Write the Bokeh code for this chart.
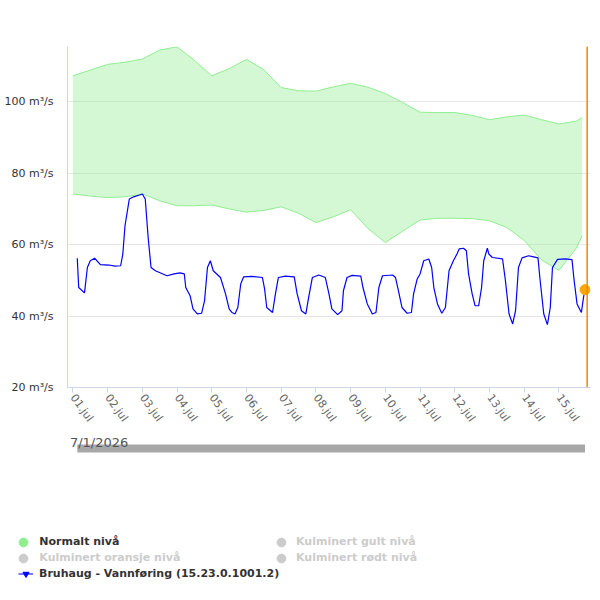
from datetime import datetime, timedelta

from bokeh.plotting import figure
from bokeh.layouts import column
from bokeh.models import (Range1d, FixedTicker, DatetimeTickFormatter, PrintfTickFormatter,
                          Span, Legend, LegendItem, Label)
from bokeh.embed import file_html
from bokeh.resources import INLINE

# ---------------- data ----------------
START = datetime(2026, 7, 1)
DATE_LABEL = "7/1/2026"

# Bruhaug - Vannføring, hours after 01.07.2026 00:00 and m3/s
flow_hours = [3, 4, 8, 10, 12, 15, 19, 25, 29, 33, 34.5, 36, 39, 42, 46, 48, 50, 52, 54, 57,
              61, 65, 70, 74, 77, 78, 81, 83, 86, 89, 91, 93, 95, 97, 102, 105.5, 108, 110,
              112, 114, 116, 118, 124, 131, 132.5, 134, 138, 140, 142, 147, 153, 155, 158,
              161, 163, 165.5, 170, 174.5, 177, 179, 183, 186, 187, 189.5, 193, 199, 200.5,
              203.5, 207, 209.5, 211.5, 214, 221, 223, 225, 227.5, 231, 234, 235.5, 238, 240,
              242.5, 246, 248, 249.5, 252, 255, 257.5, 260, 263, 265.5, 267, 270, 272, 273.5,
              276, 278, 280.5, 282.5, 284, 286.5, 287.5, 290, 297, 299, 301.5, 304, 306, 308,
              310.5, 315, 318.5, 321.5, 323, 325.5, 328, 330, 331.5, 335, 340.5, 345, 346.5,
              348.5, 351.5, 353, 354]
flow_values = [56.2, 48.0, 46.5, 53.6, 55.5, 56.2, 54.4, 54.3, 54.0, 54.1, 57.4, 65.3, 72.8,
               73.4, 73.9, 74.2, 72.8, 62.0, 53.6, 52.7, 52.0, 51.3, 51.8, 52.1, 51.8, 48.0,
               45.7, 42.0, 40.6, 40.8, 44.3, 53.6, 55.5, 52.7, 50.8, 46.2, 42.0, 41.0, 40.6,
               42.4, 49.0, 51.0, 51.1, 50.8, 47.6, 42.4, 41.0, 46.2, 50.8, 51.2, 51.0, 46.2,
               41.5, 40.6, 45.3, 50.8, 51.5, 50.8, 46.2, 42.0, 40.4, 41.5, 47.1, 50.8, 51.4,
               51.2, 48.0, 43.4, 40.6, 41.0, 48.0, 51.3, 51.5, 50.8, 47.1, 42.4, 40.8, 41.0,
               46.2, 50.4, 51.8, 55.5, 56.0, 53.6, 48.0, 43.4, 40.8, 42.4, 52.7, 55.5, 57.4,
               58.8, 59.0, 58.3, 51.8, 46.2, 42.9, 42.9, 48.0, 55.5, 59.0, 57.4, 56.4, 56.0,
               49.9, 40.6, 37.8, 41.5, 53.6, 56.3, 56.9, 56.6, 56.3, 49.9, 40.6, 37.6, 42.4,
               53.6, 55.9, 56.0, 55.8, 49.9, 43.4, 41.0, 45.3, 47.4]

# Normalt nivå band (hours after start, lower / upper m3/s)
band_hours = [0, 12, 24, 36, 48, 60, 72, 84, 96, 108, 120, 132, 144, 156, 168, 180, 192, 204,
              216, 228, 240, 252, 264, 276, 288, 300, 312, 324, 336, 348, 352]
band_lower = [74.2, 73.6, 73.2, 73.4, 74.2, 72.3, 70.9, 70.9, 71.1, 70.0, 69.1, 69.6, 70.6,
              68.8, 66.2, 67.8, 69.8, 64.5, 60.6, 63.8, 66.9, 67.4, 67.4, 67.3, 66.7, 64.8,
              61.2, 55.7, 52.8, 59.0, 62.5]
band_upper = [107.3, 108.9, 110.5, 111.1, 112.0, 114.5, 115.4, 111.6, 107.3, 109.3, 111.9,
              109.0, 104.0, 103.1, 103.0, 104.2, 105.2, 104.1, 102.3, 99.8, 97.1, 97.0, 97.0,
              96.2, 95.0, 95.8, 96.3, 95.0, 93.8, 94.6, 95.6]

now_hour = 355.5
x_start_hour = -3.75
x_end_hour = 357.8
y_min, y_max = 20, 115.5
y_ticks = [20, 40, 60, 80, 100]
tick_days = list(range(15))

label_normal = "Normalt nivå"
label_yellow = "Kulminert gult nivå"
label_orange = "Kulminert oransje nivå"
label_red = "Kulminert rødt nivå"
label_series = "Bruhaug - Vannføring (15.23.0.1001.2)"

# ---------------- helpers ----------------
EPOCH = datetime(1970, 1, 1)
NAN = float("nan")


def ms(hours):
    return ((START + timedelta(hours=hours)) - EPOCH).total_seconds() * 1000.0


flow_x = [ms(h) for h in flow_hours]
band_x = [ms(h) for h in band_hours]
tick_x = [ms(24 * d) for d in tick_days]

FONT = "DejaVu Sans"
W = 600
H1 = 430
H2 = 170
BL, BR, BT, BB = 67, 10, 46, 42
FRAME_W = W - BL - BR
xs, xe = ms(x_start_hour), ms(x_end_hour)

# ---------------- main chart ----------------
p = figure(width=W, height=H1, x_axis_type="datetime",
           x_range=Range1d(xs, xe), y_range=Range1d(y_min, y_max),
           output_backend="svg", toolbar_location=None,
           min_border_left=BL, min_border_right=BR, min_border_top=BT, min_border_bottom=BB)
p.outline_line_color = None
p.background_fill_color = "white"
p.border_fill_color = "white"
p.xgrid.visible = False
p.ygrid.grid_line_color = "#e6e6e6"
p.ygrid.ticker = FixedTicker(ticks=y_ticks)

p.yaxis.ticker = FixedTicker(ticks=y_ticks)
p.yaxis.formatter = PrintfTickFormatter(format="%d m³/s")
p.yaxis.axis_line_color = "#ccd6eb"
p.yaxis.major_tick_line_color = None
p.yaxis.minor_tick_line_color = None
p.yaxis.major_label_standoff = 8
p.yaxis.major_label_text_font = FONT
p.yaxis.major_label_text_font_size = "11px"
p.yaxis.major_label_text_color = "#333333"

p.xaxis.ticker = FixedTicker(ticks=tick_x)
fmt = "%d.jul"
p.xaxis.formatter = DatetimeTickFormatter(microseconds=fmt, milliseconds=fmt, seconds=fmt,
                                          minsec=fmt, minutes=fmt, hourmin=fmt, hours=fmt,
                                          days=fmt, months=fmt, years=fmt)
p.xaxis.axis_line_color = "#ccd6eb"
p.xaxis.major_tick_line_color = "#ccd6eb"
p.xaxis.major_tick_out = 5
p.xaxis.major_tick_in = 0
p.xaxis.minor_tick_line_color = None
p.xaxis.major_label_orientation = -0.95
p.xaxis.major_label_standoff = 3
p.xaxis.major_label_text_font = FONT
p.xaxis.major_label_text_font_size = "11px"
p.xaxis.major_label_text_color = "#666666"

# normal band
p.varea(x=band_x, y1=band_lower, y2=band_upper, fill_color="#90ee90", fill_alpha=0.4)
p.line(band_x, band_upper, line_color="#90ee90", line_width=1)
p.line(band_x, band_lower, line_color="#90ee90", line_width=1)

# flow series
p.line(flow_x, flow_values, line_color="#0000ff", line_width=1.2)
p.scatter([flow_x[-1]], [flow_values[-1]], size=10, fill_color="#ffa500", line_color="#ffa500")

# now line
p.add_layout(Span(location=ms(now_hour), dimension="height", line_color="#ee8a00", line_width=1.5))

# ---------------- lower panel: date, scrollbar, legend ----------------
pp = (xe - xs) / FRAME_W
q = figure(width=W, height=H2, x_range=Range1d(xs - BL * pp, xe + BR * pp),
           y_range=Range1d(0, H2), x_axis_type=None, y_axis_type=None,
           output_backend="svg", toolbar_location=None, min_border=0,
           min_border_left=0, min_border_right=0, min_border_top=0, min_border_bottom=0)
q.outline_line_color = None
q.xgrid.visible = False
q.ygrid.visible = False
q.background_fill_color = "white"
q.border_fill_color = "white"
for fig in (p, q):
    try:
        fig.frame_align = False
    except Exception:
        pass

q.add_layout(Label(x=ms(0), y=H2 - 11.5, text=DATE_LABEL, x_offset=-3,
                   text_font=FONT, text_font_size="13px", text_color="#555555",
                   text_baseline="alphabetic"))

# navigator scrollbar spanning the series
q.quad(left=[flow_x[0]], right=[flow_x[-1]], bottom=[H2 - 22], top=[H2 - 14],
       fill_color="#a8a8a8", line_color=None)

# legend proxies (NaN data: nothing drawn in the plot area)
r_norm = q.scatter([NAN], [NAN], marker="circle", fill_color="#90ee90", line_color="#90ee90")
r_gray = q.scatter([NAN], [NAN], marker="circle", fill_color="#cccccc", line_color="#cccccc")
r_bl = q.line([NAN, NAN], [NAN, NAN], line_color="#4d4dff", line_width=1.5)
r_bm = q.scatter([NAN], [NAN], marker="inverted_triangle", fill_color="#0000ff", line_color="#0000ff")


def add_legend(label, renderers, loc, color, gw=22, standoff=5):
    lg = Legend(items=[LegendItem(label=label, renderers=renderers)], location=loc,
                orientation="vertical", padding=0, margin=0, spacing=0,
                glyph_width=gw, glyph_height=gw, label_height=15, label_standoff=standoff,
                label_text_font=FONT, label_text_font_size="11px", label_text_font_style="bold",
                label_text_color=color, border_line_color=None, background_fill_alpha=0)
    q.add_layout(lg)


add_legend(label_normal, [r_norm], (12.3, 47.3), "#333333")
add_legend(label_orange, [r_gray], (12.3, 31.5), "#cccccc")
add_legend(label_series, [r_bl, r_bm], (18, 19.5), "#333333", gw=15, standoff=6)
add_legend(label_yellow, [r_gray], (270, 47.3), "#cccccc", standoff=4)
add_legend(label_red, [r_gray], (270, 31.5), "#cccccc", standoff=4)

layout = column(p, q, spacing=0)
open("out.html", "w").write(file_html(layout, INLINE))
